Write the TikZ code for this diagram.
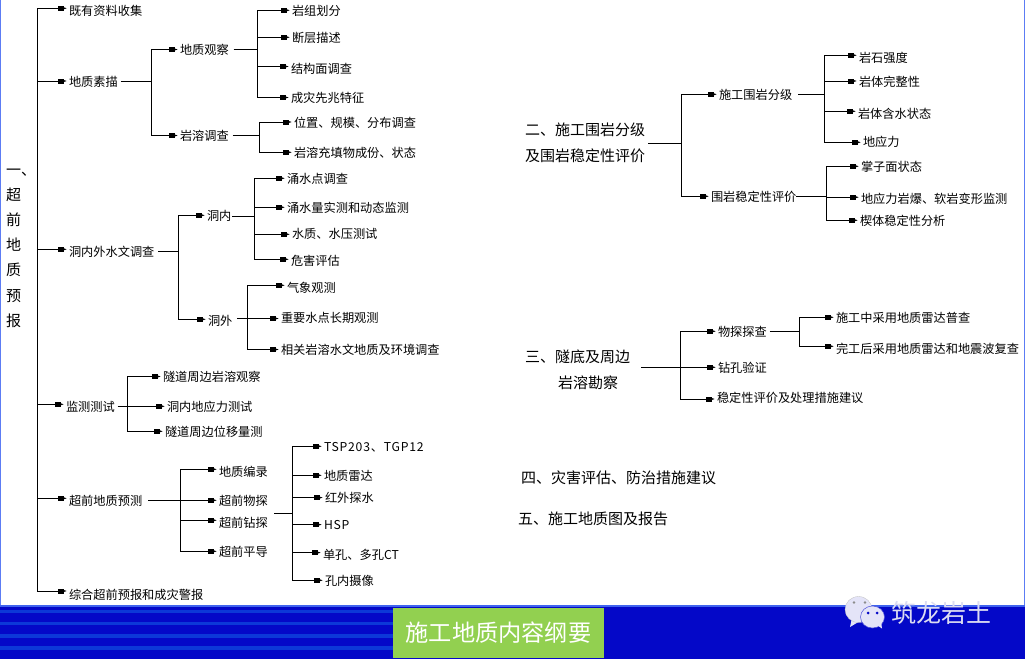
\documentclass[tikz,border=0pt]{standalone}
\usepackage{fontspec}
\setmainfont{Noto Sans CJK SC}
\usetikzlibrary{arrows.meta}
\definecolor{bandblue}{HTML}{0408C8}
\definecolor{stripeblue}{HTML}{0C38D8}
\definecolor{edgeblue}{HTML}{3F63EE}
\definecolor{sideblue}{HTML}{5C7CF4}
\definecolor{boxgreen}{HTML}{92D050}
\definecolor{chatwhite}{HTML}{E4E4F8}
\definecolor{brandwhite}{HTML}{DCDCF2}
\tikzset{
  lab/.style={inner sep=0pt,outer sep=0pt,anchor=west,font=\fontsize{12.2}{14}\selectfont},
  big/.style={inner sep=0pt,outer sep=0pt,anchor=west,align=left,font=\fontsize{15}{26}\selectfont},
  link/.style={line width=0.95pt,black,shorten >=2pt,
    -{Rectangle[length=6pt,width=5pt]Triangle[length=2.8pt,width=1.4pt]}},
}
\newcommand{\lab}[5][0]{%
  \pgfmathsetmacro{\thh}{15.2+#1}\pgfmathsetmacro{\tdd}{4.8-#1}%
  \node[lab,text height=\thh pt,text depth=\tdd pt] (#2) at (#3,#4) {#5};}
% \kid[start shifts]{parent}{bus}{child}
\newcommand{\kid}[4][xshift=3pt]{%
  \coordinate (kidstart) at ([#1]#2.east);
  \draw[link] (kidstart) -- (kidstart -| #3) |- (#4.west);}
\newcommand{\tkid}[2]{\draw[link] (#1) |- (#2.west);}
\begin{document}
\begin{tikzpicture}[x=1pt,y=-1pt]
\useasboundingbox (0,0) rectangle (1025,659);
\fill[white] (0,0) rectangle (1025,659);
% side edges
\fill[sideblue] (0,0) rectangle (1.3,605);
\fill[sideblue] (1023.6,0) rectangle (1025,605);
% bottom band
\fill[bandblue] (0,605) rectangle (1025,659);
\fill[edgeblue] (0,604.6) rectangle (1025,606.6);
\foreach \yy in {609.5,621.5,634,646}{\fill[stripeblue] (0,\yy) rectangle (393,\yy+3.6);}
\node[inner sep=0pt,minimum width=211pt,minimum height=50pt,fill=boxgreen,text=white,font=\fontsize{23.2}{26}\selectfont] (title) at (498.5,633) {施工地质内容纲要};
% WeChat mark
\fill[chatwhite] (852,618) -- (850,627) -- (860,621) -- cycle;
\fill[chatwhite,draw=black!25,line width=.3pt] (858.5,609.5) ellipse (13.5 and 13);
\fill[chatwhite,draw=bandblue!70,line width=.5pt] (872.5,617) ellipse (12 and 11);
\fill[chatwhite] (877,625) -- (882,628.5) -- (881,621) -- cycle;
\fill[black!45] (854,602.5) circle (1.3) (865,602.5) circle (1.3);
\fill[bandblue] (868,613) circle (1.5) (877,613) circle (1.5);
\node[inner sep=0pt,anchor=west,text=brandwhite,font=\fontsize{25}{28}\selectfont] (brand) at (891,613) {筑龙岩土};

% ---- section one
\node[inner sep=0pt,anchor=west,align=left,font=\fontsize{15}{25.2}\selectfont] (sec1) at (6,248) {一、\\超\\前\\地\\质\\预\\报};
\coordinate (rt) at (37.5,300);
\lab[2]{a1}{69}{8.3}{既有资料收集}
\lab{a2}{69}{81}{地质素描}
\lab[2]{a3}{69}{249.3}{洞内外水文调查}
\lab[2]{a4}{66}{404.3}{监测测试}
\lab[2]{a5}{69}{498.3}{超前地质预测}
\lab[3]{a6}{69}{591}{综合超前预报和成灾警报}
\foreach \c in {a1,a2,a3,a4,a5,a6}{\tkid{rt}{\c}}

\coordinate (b2) at (151,0);
\lab{g1}{180}{49.5}{地质观察}
\lab{g2}{180}{135.5}{岩溶调查}
\kid{a2}{b2}{g1}\kid{a2}{b2}{g2}
\coordinate (b21) at (257.5,0);
\lab{g11}{292}{10.3}{岩组划分}
\lab{g12}{292}{37.3}{断层描述}
\lab[2]{g13}{291}{66.5}{结构面调查}
\lab{g14}{291}{97.5}{成灾先兆特征}
\foreach \c in {g11,g12,g13,g14}{\kid[xshift=5pt]{g1}{b21}{\c}}
\coordinate (b22) at (259.5,0);
\lab{g21}{294}{122}{位置、规模、分布调查}
\lab{g22}{294}{152.3}{岩溶充填物成份、状态}
\foreach \c in {g21,g22}{\kid[xshift=4pt]{g2}{b22}{\c}}

\coordinate (b3) at (178.5,0);
\lab{w1}{207}{215.3}{洞内}
\lab[1]{w2}{208}{319.3}{洞外}
\kid[xshift=4pt,yshift=-2pt]{a3}{b3}{w1}\kid[xshift=4pt,yshift=-2pt]{a3}{b3}{w2}
\coordinate (b31) at (254.5,0);
\lab{w11}{287}{178.3}{涌水点调查}
\lab{w12}{287}{207.3}{涌水量实测和动态监测}
\lab[-1]{w13}{292}{234.3}{水质、水压测试}
\lab[1]{w14}{291}{259.3}{危害评估}
\foreach \c in {w11,w12,w13,w14}{\kid[xshift=1pt,yshift=-1pt]{w1}{b31}{\c}}
\coordinate (b32) at (247.3,0);
\lab[2]{w21}{287}{285.3}{气象观测}
\lab[-1]{w22}{281}{318.5}{重要水点长期观测}
\lab{w23}{281}{349.5}{相关岩溶水文地质及环境调查}
\foreach \c in {w21,w22,w23}{\kid[xshift=5pt,yshift=1pt]{w2}{b32}{\c}}

\coordinate (b4) at (127.5,0);
\lab{m1}{163}{376.5}{隧道周边岩溶观察}
\lab{m2}{167}{406.3}{洞内地应力测试}
\lab{m3}{165}{431.3}{隧道周边位移量测}
\foreach \c in {m1,m2,m3}{\kid[xshift=3pt,yshift=-2pt]{a4}{b4}{\c}}

\coordinate (b5) at (180.5,0);
\lab[2]{p1}{219}{469.3}{地质编录}
\lab{p2}{219}{500.3}{超前物探}
\lab[1.5]{p3}{219}{520.3}{超前钻探}
\lab{p4}{219}{551.3}{超前平导}
\foreach \c in {p1,p2,p3,p4}{\kid[xshift=6pt,yshift=-2pt]{a5}{b5}{\c}}
\coordinate (gp) at (274,513.3);
\coordinate (b51) at (292.5,0);
\lab{q1}{324}{446.3}{\addfontfeature{LetterSpace=6.5}TSP203、TGP12}
\lab{q2}{324}{475.3}{地质雷达}
\lab{q3}{325}{497.6}{红外探水}
\lab{q4}{324}{524.6}{\addfontfeature{LetterSpace=6.5}HSP}
\lab[1.5]{q5}{323}{552.6}{单孔、多孔CT}
\lab{q6}{325}{580.3}{孔内摄像}
\foreach \c in {q1,q2,q3,q4,q5,q6}{\draw[link] (gp) -- (gp -| b51) |- (\c.west);}

% ---- section two
\node[big] (sec2) at (525,143) {二、施工围岩分级\\及围岩稳定性评价};
\coordinate (c2) at (681.7,0);
\lab{r1}{719}{94.3}{施工围岩分级}
\lab{r2}{711}{196.3}{围岩稳定性评价}
\kid{sec2}{c2}{r1}\kid{sec2}{c2}{r2}
\coordinate (c21) at (824,0);
\lab[1.5]{r11}{859}{55.3}{岩石强度}
\lab{r12}{859}{81}{岩体完整性}
\lab[1.5]{r13}{858}{111.3}{岩体含水状态}
\lab[-1]{r14}{863}{142.3}{地应力}
\foreach \c in {r11,r12,r13,r14}{\kid[xshift=6pt]{r1}{c21}{\c}}
\coordinate (c22) at (826,0);
\lab{r21}{861}{166.3}{掌子面状态}
\lab[1]{r22}{861}{197.2}{地应力岩爆、软岩变形监测}
\lab{r23}{860}{220.3}{楔体稳定性分析}
\foreach \c in {r21,r22,r23}{\kid[xshift=0pt]{r2}{c22}{\c}}

% ---- section three
\node[big] (sec3) at (525,369.5) {三、隧底及周边\\\hspace*{33pt}岩溶勘察};
\coordinate (c3) at (680.7,0);
\lab{s1}{718}{331.3}{物探探查}
\lab{s2}{718}{367.3}{钻孔验证}
\lab[-1.5]{s3}{717}{399}{稳定性评价及处理措施建议}
\foreach \c in {s1,s2,s3}{\kid[xshift=11pt,yshift=2pt]{sec3}{c3}{\c}}
\coordinate (c31) at (799,0);
\lab{s11}{836}{317.3}{施工中采用地质雷达普查}
\lab[1.5]{s12}{836}{346.3}{完工后采用地质雷达和地震波复查}
\foreach \c in {s11,s12}{\kid[xshift=3pt]{s1}{c31}{\c}}

% ---- sections four, five
\node[big] (sec4) at (521,478) {四、灾害评估、防治措施建议};
\node[big] (sec5) at (518,518.5) {五、施工地质图及报告};
\end{tikzpicture}
\end{document}
